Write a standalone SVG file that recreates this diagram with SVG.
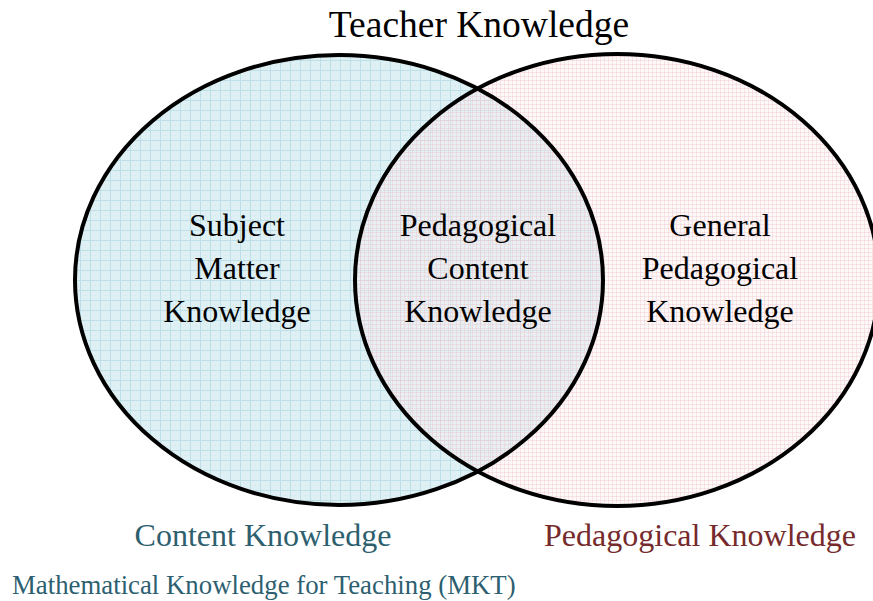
<svg xmlns="http://www.w3.org/2000/svg" width="873" height="601" viewBox="0 0 873 601">
<defs>
<pattern id="blueGrid" width="10" height="10" patternUnits="userSpaceOnUse">
<rect width="10" height="10" fill="#dff0f5"/>
<rect x="0" y="0" width="10" height="1" fill="#bde0e8"/>
<rect x="0" y="0" width="1" height="10" fill="#bde0e8"/>
<rect x="5" y="5" width="1" height="1" fill="#cfe8ef"/>
</pattern>
<pattern id="pinkGrid" width="4" height="4" patternUnits="userSpaceOnUse">
<rect width="4" height="4" fill="#fcecee" fill-opacity="0.35"/>
<rect x="0" y="0" width="4" height="1" fill="#eec3c8" fill-opacity="0.38"/>
<rect x="0" y="0" width="1" height="4" fill="#eec3c8" fill-opacity="0.38"/>
</pattern>
</defs>
<style>
.ring{fill:none;stroke:#000;stroke-width:4}
.lbl{font-family:"Liberation Serif","Times New Roman",serif;font-size:32px;fill:#000;text-anchor:middle}
.title{font-family:"Liberation Serif","Times New Roman",serif;font-size:37.5px;fill:#000;text-anchor:middle}
.cap{font-family:"Liberation Serif","Times New Roman",serif;font-size:32px;text-anchor:middle}
</style>
<rect width="873" height="601" fill="#fff"/>
<g id="fills">
<ellipse cx="339" cy="280" rx="264" ry="225" fill="url(#blueGrid)"/>
<ellipse cx="617" cy="280" rx="262" ry="226" fill="url(#pinkGrid)"/>
</g>
<g id="content-knowledge">
<ellipse class="ring" cx="339" cy="280" rx="264" ry="225"/>
<text class="lbl" x="237" y="236">Subject</text>
<text class="lbl" x="237" y="279">Matter</text>
<text class="lbl" x="237" y="322">Knowledge</text>
<text class="cap" x="263" y="546" fill="#2d5f6e">Content Knowledge</text>
</g>
<g id="pedagogical-knowledge">
<ellipse class="ring" cx="617" cy="280" rx="262" ry="226"/>
<text class="lbl" x="720" y="236">General</text>
<text class="lbl" x="720" y="279">Pedagogical</text>
<text class="lbl" x="720" y="322">Knowledge</text>
<text class="cap" x="700" y="546" fill="#762a2c">Pedagogical Knowledge</text>
</g>
<g id="pck">
<text class="lbl" x="478" y="236">Pedagogical</text>
<text class="lbl" x="478" y="279">Content</text>
<text class="lbl" x="478" y="322">Knowledge</text>
</g>
<g id="titles">
<text class="title" x="479" y="37">Teacher Knowledge</text>
<text x="12" y="594" font-family="Liberation Serif, Times New Roman, serif" font-size="26.8" fill="#2d5f70">Mathematical Knowledge for Teaching (MKT)</text>
</g>
</svg>
